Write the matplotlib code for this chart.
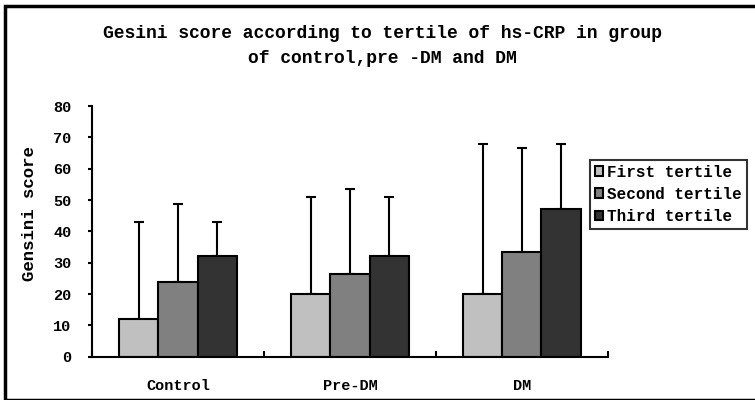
import numpy as np
import matplotlib.pyplot as plt
from matplotlib.patches import Rectangle

groups = ["Control", "Pre-DM", "DM"]
tertiles = ["First tertile", "Second tertile", "Third tertile"]
means = {
    "First tertile": [12, 20, 20],
    "Second tertile": [24, 26.3, 33.3],
    "Third tertile": [32, 32, 47],
}
upper = {
    "First tertile": [43, 51, 68],
    "Second tertile": [48.7, 53.5, 66.5],
    "Third tertile": [43, 51, 68],
}
colors = ["#c0c0c0", "#808080", "#333333"]

plt.rcParams['font.family'] = ['Liberation Mono', 'DejaVu Sans Mono']
plt.rcParams['font.weight'] = 'bold'

fig = plt.figure(figsize=(7.55, 4), dpi=100)
ax = fig.add_axes([0.122, 0.108, 0.683, 0.627])

# outer frame
fig.patches.append(Rectangle((0.006, 0.0), 1.2, 0.985, transform=fig.transFigure,
                             fill=False, edgecolor="black", linewidth=2.5))

x = np.arange(len(groups))
w = 0.228
for i, t in enumerate(tertiles):
    m = np.array(means[t])
    err = np.array(upper[t]) - m
    pos = x + (i - 1) * w
    ax.bar(pos, m, w, color=colors[i], edgecolor="black", linewidth=1.5, label=t, zorder=2)
    ax.errorbar(pos, m, yerr=[np.zeros_like(err), err], fmt="none", ecolor="black",
                elinewidth=1.5, capsize=3.5, capthick=1.5, zorder=1)

ax.set_xlim(-0.5, 2.5)
ax.set_ylim(0, 80)
ax.set_yticks(range(0, 81, 10))
ax.set_xticks([-0.5, 0.5, 1.5, 2.5])
ax.set_xticklabels([])
ax.set_xticks(x, minor=True)
ax.set_xticklabels(groups, minor=True, fontsize=11, fontweight="bold")
ax.tick_params(axis="x", which="minor", length=0, pad=16)
ax.tick_params(axis="x", which="major", length=4, width=1.5, direction="in")
ax.tick_params(axis="y", length=3, width=1.5, labelsize=11, pad=12)
for s in ["top", "right"]:
    ax.spines[s].set_visible(False)
for s in ["left", "bottom"]:
    ax.spines[s].set_linewidth(1.5)

ax.set_ylabel("Gensini score", fontsize=12.5, fontweight="bold")
ax.yaxis.set_label_coords(-0.107, 0.573)
fig.text(0.507, 0.885, "Gesini score according to tertile of hs-CRP in group\nof control,pre -DM and DM",
         ha="center", va="center", fontsize=13, fontweight="bold", linespacing=1.6)

leg = ax.legend(loc="upper left", bbox_to_anchor=(0.965, 0.785), fontsize=11.5, frameon=True,
                fancybox=False, edgecolor="black", handlelength=0.55, handleheight=0.55,
                handletextpad=0.25, borderpad=0.3, labelspacing=0.45, borderaxespad=0)
leg.get_frame().set_linewidth(1.5)

fig.savefig("out.png", dpi=100)
